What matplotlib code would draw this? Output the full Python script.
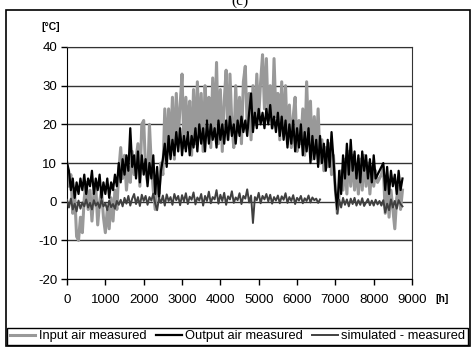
import matplotlib
matplotlib.use('Agg')
import matplotlib.pyplot as plt
import numpy as np

plt.rcParams['font.family'] = ['Liberation Sans', 'DejaVu Sans']
plt.rcParams['axes.unicode_minus'] = False

# hourly samples every 50 h
hours = np.arange(0, 8800, 50)

input_air = [
    10, 4, 7, -3, 2, -9, -10, -4, -8, 1, 5, -2, 3, -5, 2, 4, -6, 0, 3, -4,
    -8, -2, -7, 1, -5, 3, -2, 8, 14, 6, 12, 3, 9, 5, 13, 7, 11, 15, 4, 20,
    21, 8, 5, 20, 9, 3, -2, 6, 2, 10, 7, 24, 12, 24, 14, 27, 11, 28, 16, 25,
    33, 14, 27, 18, 26, 12, 29, 15, 31, 17, 28, 13, 30, 21, 27, 14, 32, 18, 36, 15,
    29, 13, 26, 34, 16, 33, 20, 14, 30, 18, 27, 15, 31, 35, 19, 28, 16, 30, 20, 33,
    22, 31, 38, 24, 37, 21, 30, 19, 37, 22, 28, 16, 31, 17, 30, 15, 25, 14, 22, 27,
    13, 21, 15, 24, 12, 31, 17, 26, 11, 22, 13, 24, 10, 16, 8, 14, 9, 15, 7, 12,
    3, -3, 2, 8, 3, 11, 2, 13, 4, 12, 3, 9, 2, 11, 3, 12, 4, 10, 2, 9,
    4, 8, 5, 6, 7, 9, -3, 6, -4, 3, -2, -7, 1, 4, -2, 3,
]

output_air = [
    10, 8, 3, 6, 1, 5, 2, 6, 3, 7, 2, 6, 4, 8, 2, 6, 3, 7, 1, 5,
    2, 6, 1, 5, 3, 7, 4, 10, 5, 11, 7, 12, 8, 19, 9, 12, 6, 13, 5, 12,
    7, 11, 4, 10, 6, 12, 2, 9, 1, 8, 11, 15, 9, 17, 11, 16, 12, 18, 13, 19,
    12, 17, 13, 18, 12, 17, 14, 19, 13, 20, 15, 19, 13, 21, 15, 20, 16, 19, 14, 21,
    16, 20, 15, 21, 16, 22, 17, 20, 15, 21, 17, 22, 18, 21, 17, 23, 28, 18, 23, 19,
    24, 20, 23, 19, 24, 20, 25, 19, 22, 18, 23, 17, 22, 16, 21, 14, 20, 15, 21, 13,
    19, 14, 20, 12, 18, 13, 19, 10, 17, 11, 16, 9, 17, 10, 15, 8, 16, 9, 18, 11,
    3, -2, 8, 2, 12, 6, 15, 7, 16, 8, 13, 6, 12, 5, 13, 8, 12, 6, 11, 5,
    12, 6, 7, 8, 9, 10, 3, 9, 2, 8, 4, 7, 2, 8, 3, 6,
]

nan = np.nan
sim_minus_meas = [
    0.5, -1.5, 0.8, -2, -0.5, -2.5, 0.3, -1.8, -0.2, -1.2, 0.6, -1.5, -0.3, -2, 0.4, -1, -0.2, -1.6, 0.5, -1.2,
    -0.4, -2.2, 0.3, -1.4, -0.6, -1.8, 0.2, -0.8, 0.5, -1.2, 1, -0.5, 1.5, -1, 0.8, 2, -0.6, 1.2, -1.1, 1.8,
    0.2, 1.5, -0.8, 1.2, 0.3, 2.1, -0.5, -2.2, 1, -0.3, 1.6, -1, 1.9, 0.2, 1.2, -0.8, 2, 0.4, 1.5, -0.9,
    1.7, 0.1, 2.2, -0.6, 1.3, 0.5, 2.4, -0.7, 1.1, 0.3, 2, -1, 1.5, 0.2, 2.6, -0.4, 1.2, 0.6, 3, -0.5,
    1.8, 0.2, 2.3, -0.8, 1.4, 0.6, 2.7, -0.3, 1.1, 0.4, 2.2, -0.6, 1.5, 0.8, 3.2, -0.2, 1.6, -5.5, 1.2, 0.4,
    2.3, -0.4, 1.5, 0.6, 2, 0.1, 1.8, -0.5, 1.2, 0.3, 1.6, -0.4, 1.4, 0.5, 2.2, -0.3, 1.2, 0.2, 1.7, -0.6,
    1, 0.3, 1.5, -0.4, 0.9, 0.2, 1.6, -0.2, 1.1, 0.4, 0.8, -0.3, 0.6, nan, nan, nan, nan, nan, nan, nan,
    nan, -3, 0.5, -1.5, 1, -0.8, 0.6, -1.2, 0.8, -0.6, 1, -1, 0.4, -0.8, 0.9, -1.1, -0.2, 0.7, -0.9, 0.3,
    -1, 0.5, -0.7, 0.2, -1, 0.4, -2.8, -0.5, -2.2, 0.6, -1.5, 0.2, -1.8, 0.4, -0.6, -1.2,
]

fig = plt.figure(figsize=(4.72, 3.48), dpi=100)
ax = fig.add_axes([0.142, 0.198, 0.731, 0.667])

ax.plot(hours, input_air, color='#999999', lw=2.2, label='Input air measured', zorder=2)
ax.plot(hours, output_air, color='black', lw=1.6, label='Output air measured', zorder=3)
ax.plot(hours, sim_minus_meas, color='#404040', lw=1.4, label='simulated - measured', zorder=4)

ax.set_xlim(0, 9000)
ax.set_ylim(-20, 40)
ax.set_xticks(np.arange(0, 9001, 1000))
ax.set_yticks(np.arange(-20, 41, 10))
ax.yaxis.grid(True, color='#333333', lw=1.0)
ax.set_axisbelow(True)
ax.tick_params(labelsize=9.5, length=4, width=1, direction='out')
ax.tick_params(axis='x', pad=7)
ax.tick_params(axis='y', pad=3)
for side in ['top', 'right']:
    ax.spines[side].set_color('#333333')

fig.text(0.107, 0.922, '[°C]', fontsize=7.5, fontweight='bold', ha='center', va='center')
fig.text(0.937, 0.142, '[h]', fontsize=7.5, fontweight='bold', ha='center', va='center')
fig.text(0.508, 0.995, '(c)', fontsize=11, family='Liberation Serif', ha='center', va='center')

leg = fig.legend(loc='lower center', bbox_to_anchor=(0.503, 0.009),
                 ncol=3, fontsize=9.3, handlelength=2.0,
                 handletextpad=0.25, columnspacing=0.75, borderaxespad=0,
                 fancybox=False, edgecolor='black', framealpha=1, borderpad=0.2)
leg.get_frame().set_linewidth(1.0)

fig.patches.append(plt.Rectangle((0.012, 0.006), 0.983, 0.966, transform=fig.transFigure,
                                 fill=False, edgecolor='black', lw=1.2))

plt.savefig('out.png', dpi=100)
